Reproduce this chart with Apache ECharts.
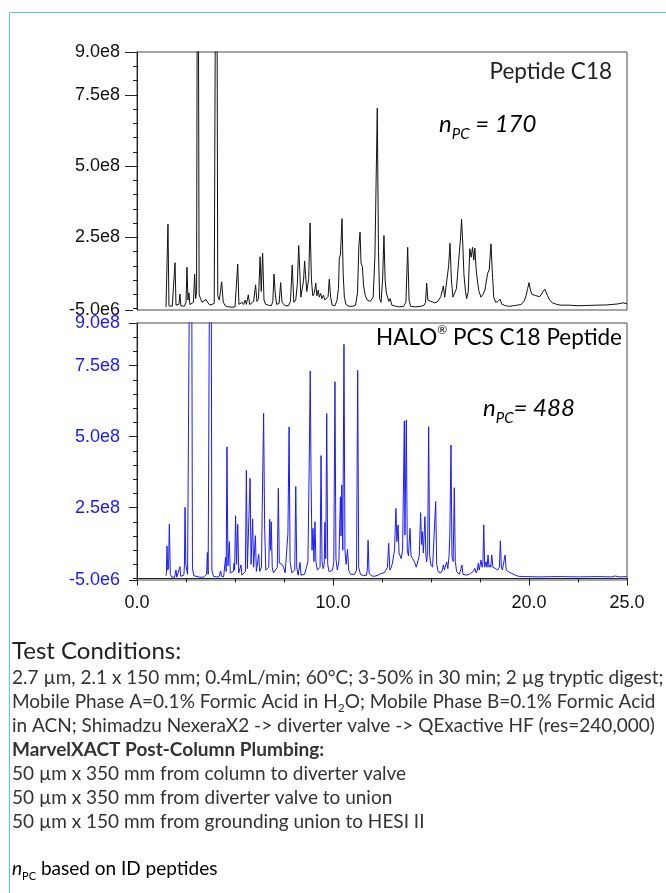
<!DOCTYPE html>
<html>
<head>
<meta charset="utf-8">
<script src="https://cdn.jsdelivr.net/npm/echarts@6.0.0/dist/echarts.min.js"></script>
<style>
html,body{margin:0;padding:0;background:#fff;}
#main{width:666px;height:893px;}
</style>
</head>
<body>
<div id="main"></div>
<script>
// ---- DATA (intensity in units of 1e8, time in min) ----
const c18Trace = [[1.48,0.05],[1.54,0.07],[1.58,2.96],[1.63,0.10],[1.70,0.06],[1.80,0.08],[1.88,0.12],[1.94,1.61],[1.99,0.12],[2.08,0.06],[2.14,0.15],[2.19,0.51],[2.24,0.10],[2.32,0.05],[2.42,0.08],[2.50,0.22],[2.55,1.45],[2.60,0.30],[2.65,0.55],[2.70,0.14],[2.80,0.10],[2.88,0.22],[2.94,1.20],[2.99,0.35],[3.04,0.60],[3.10,20.0],[3.17,0.50],[3.24,0.35],[3.32,0.22],[3.42,0.20],[3.52,0.32],[3.62,0.20],[3.72,0.12],[3.82,0.10],[3.94,0.18],[4.05,20.0],[4.12,0.45],[4.20,0.30],[4.32,0.94],[4.40,0.22],[4.50,0.10],[4.65,0.06],[4.85,0.05],[5.00,0.06],[5.08,0.12],[5.14,1.56],[5.20,0.15],[5.30,0.10],[5.38,0.22],[5.44,0.14],[5.52,0.30],[5.58,0.15],[5.68,0.48],[5.75,0.14],[5.85,0.10],[5.95,0.25],[6.05,0.83],[6.12,0.25],[6.20,0.35],[6.28,1.82],[6.34,0.60],[6.41,1.94],[6.48,0.30],[6.56,0.15],[6.70,0.12],[6.85,0.10],[6.93,0.25],[6.99,1.21],[7.05,0.55],[7.12,0.15],[7.25,0.18],[7.33,0.91],[7.40,0.22],[7.55,0.10],[7.72,0.10],[7.83,0.25],[7.92,1.53],[8.00,0.22],[8.10,0.30],[8.18,0.85],[8.25,2.21],[8.30,1.40],[8.36,0.40],[8.45,0.35],[8.50,1.00],[8.55,1.67],[8.60,1.20],[8.66,0.60],[8.76,1.05],[8.83,3.00],[8.90,1.00],[8.97,0.45],[9.05,0.55],[9.12,0.89],[9.18,0.45],[9.25,0.65],[9.30,0.40],[9.37,0.53],[9.43,0.35],[9.51,0.47],[9.58,0.30],[9.68,0.36],[9.75,0.42],[9.81,1.03],[9.88,0.40],[9.96,0.12],[10.10,0.10],[10.20,0.28],[10.28,0.70],[10.32,1.76],[10.38,1.90],[10.46,3.15],[10.52,1.20],[10.58,0.40],[10.66,0.15],[10.80,0.08],[11.00,0.08],[11.15,0.12],[11.25,0.55],[11.32,2.20],[11.38,2.68],[11.43,1.60],[11.50,1.47],[11.56,0.80],[11.65,0.45],[11.75,0.30],[11.90,0.25],[12.05,0.40],[12.14,1.88],[12.19,1.95],[12.26,7.03],[12.32,2.00],[12.38,0.35],[12.45,0.22],[12.53,1.00],[12.60,2.56],[12.66,1.00],[12.72,0.55],[12.78,0.50],[12.85,0.25],[12.92,0.35],[13.00,0.12],[13.20,0.08],[13.40,0.06],[13.60,0.08],[13.72,0.22],[13.81,2.15],[13.88,0.30],[13.96,0.08],[14.20,0.06],[14.50,0.08],[14.65,0.12],[14.72,0.22],[14.78,0.89],[14.84,0.30],[14.92,0.35],[15.00,0.25],[15.10,0.30],[15.20,0.20],[15.35,0.25],[15.50,0.42],[15.63,0.79],[15.70,0.40],[15.80,0.42],[15.90,1.50],[15.97,2.29],[16.04,1.00],[16.12,0.40],[16.20,0.35],[16.30,0.70],[16.40,1.60],[16.50,2.40],[16.56,3.13],[16.62,2.30],[16.68,1.20],[16.76,0.60],[16.82,0.35],[16.90,0.60],[16.98,2.10],[17.05,1.80],[17.12,2.15],[17.18,1.70],[17.24,2.12],[17.30,1.40],[17.38,0.90],[17.45,0.60],[17.55,0.40],[17.65,0.50],[17.75,0.65],[17.89,1.24],[17.97,1.35],[18.06,2.27],[18.12,1.40],[18.20,0.40],[18.30,0.22],[18.42,0.25],[18.52,0.33],[18.62,0.15],[18.80,0.10],[19.00,0.08],[19.20,0.10],[19.40,0.12],[19.60,0.15],[19.75,0.25],[19.85,0.45],[19.93,0.70],[20.00,0.91],[20.07,0.65],[20.15,0.50],[20.25,0.55],[20.35,0.45],[20.45,0.50],[20.55,0.42],[20.65,0.48],[20.72,0.60],[20.80,0.68],[20.88,0.62],[20.95,0.45],[21.05,0.30],[21.20,0.20],[21.40,0.15],[21.60,0.12],[22.00,0.12],[22.50,0.10],[23.00,0.11],[23.50,0.12],[24.00,0.13],[24.50,0.16],[24.80,0.20],[25.00,0.17]];

const pcsTrace = [[1.48,0.10],[1.50,0.18],[1.53,1.15],[1.57,0.30],[1.61,0.40],[1.65,1.91],[1.70,0.15],[1.78,0.05],[1.92,0.05],[1.96,0.08],[1.99,0.30],[2.03,0.05],[2.12,0.08],[2.19,0.42],[2.23,0.08],[2.32,0.06],[2.39,0.12],[2.42,0.45],[2.45,2.51],[2.49,0.50],[2.53,0.48],[2.58,0.15],[2.68,0.20],[2.76,20.0],[2.83,0.35],[2.90,0.10],[3.00,0.06],[3.20,0.05],[3.40,0.05],[3.50,0.08],[3.55,0.15],[3.59,0.92],[3.63,0.15],[3.70,0.20],[3.76,20.0],[3.82,0.30],[3.90,0.08],[4.05,0.06],[4.18,0.06],[4.23,0.12],[4.27,0.27],[4.31,0.08],[4.42,0.06],[4.48,0.12],[4.52,0.75],[4.55,0.25],[4.59,4.64],[4.64,0.45],[4.71,1.30],[4.76,0.20],[4.85,0.15],[4.92,0.25],[4.95,0.54],[4.98,0.30],[5.03,2.21],[5.08,0.50],[5.14,1.91],[5.19,0.20],[5.26,0.15],[5.31,0.48],[5.35,0.12],[5.45,0.10],[5.53,0.25],[5.58,3.81],[5.63,0.35],[5.70,0.30],[5.77,3.53],[5.82,0.50],[5.90,2.10],[5.95,0.40],[6.04,1.51],[6.09,0.25],[6.15,0.20],[6.21,0.85],[6.26,0.25],[6.35,0.40],[6.41,3.47],[6.46,5.82],[6.51,1.89],[6.57,0.30],[6.66,0.25],[6.72,0.40],[6.77,2.09],[6.81,1.00],[6.85,2.00],[6.90,0.40],[6.96,0.20],[7.01,0.27],[7.06,0.25],[7.16,0.40],[7.21,3.18],[7.26,0.55],[7.32,0.48],[7.40,0.50],[7.48,0.40],[7.56,0.20],[7.64,0.15],[7.70,1.59],[7.76,5.34],[7.81,0.59],[7.90,0.20],[7.98,0.20],[8.05,0.30],[8.10,3.24],[8.15,0.40],[8.22,0.12],[8.28,0.15],[8.32,0.57],[8.37,0.12],[8.45,0.10],[8.55,0.15],[8.65,0.20],[8.72,0.60],[8.78,3.65],[8.84,7.31],[8.88,3.53],[8.93,1.00],[8.98,1.77],[9.03,0.60],[9.08,2.00],[9.13,0.59],[9.20,0.30],[9.28,0.25],[9.34,0.40],[9.39,4.33],[9.44,0.59],[9.50,0.35],[9.55,0.50],[9.59,1.98],[9.63,0.70],[9.68,5.81],[9.73,0.50],[9.80,0.24],[9.90,0.20],[9.98,0.30],[10.04,0.60],[10.10,6.93],[10.15,0.70],[10.22,0.30],[10.30,0.60],[10.34,1.78],[10.38,2.88],[10.41,1.50],[10.45,3.30],[10.50,1.00],[10.56,8.25],[10.61,1.00],[10.67,0.50],[10.74,1.03],[10.80,0.30],[10.90,0.15],[11.00,0.12],[11.10,0.15],[11.20,0.30],[11.26,7.33],[11.31,0.40],[11.40,0.15],[11.55,0.10],[11.70,0.12],[11.75,0.30],[11.79,1.35],[11.84,0.20],[11.95,0.10],[12.10,0.08],[12.30,0.12],[12.45,0.18],[12.60,0.20],[12.70,0.30],[12.78,0.40],[12.84,1.24],[12.90,0.30],[12.98,0.40],[13.03,0.54],[13.08,0.60],[13.14,1.00],[13.21,2.47],[13.26,1.30],[13.32,1.89],[13.37,0.90],[13.42,0.83],[13.48,0.70],[13.55,1.00],[13.64,5.55],[13.67,1.53],[13.74,5.58],[13.79,1.00],[13.85,0.80],[13.93,1.77],[13.98,0.80],[14.06,0.71],[14.15,0.60],[14.25,0.40],[14.33,0.45],[14.40,0.80],[14.47,2.32],[14.52,1.20],[14.56,1.65],[14.61,0.90],[14.69,2.18],[14.74,0.80],[14.78,0.59],[14.83,1.00],[14.88,5.35],[14.93,0.80],[15.00,0.48],[15.08,0.40],[15.17,0.40],[15.24,2.71],[15.29,0.50],[15.37,0.24],[15.50,0.20],[15.58,0.30],[15.63,0.48],[15.68,0.30],[15.75,0.35],[15.80,0.59],[15.86,0.35],[15.92,0.80],[15.96,1.50],[16.02,4.70],[16.07,0.80],[16.13,0.60],[16.19,3.20],[16.24,0.60],[16.31,0.24],[16.45,0.15],[16.53,0.20],[16.58,0.48],[16.63,0.15],[16.80,0.12],[16.95,0.15],[17.05,0.20],[17.15,0.25],[17.24,0.36],[17.30,0.20],[17.37,0.30],[17.41,0.54],[17.46,0.30],[17.55,0.65],[17.61,0.40],[17.65,0.60],[17.69,1.89],[17.74,0.40],[17.81,0.59],[17.86,0.40],[17.91,0.83],[17.96,0.40],[18.01,0.48],[18.05,0.40],[18.10,0.83],[18.16,0.40],[18.27,0.36],[18.40,0.30],[18.49,0.40],[18.54,1.33],[18.59,0.40],[18.64,0.30],[18.72,0.35],[18.78,0.83],[18.84,0.30],[18.95,0.24],[19.12,0.18],[19.30,0.12],[19.46,0.08],[19.80,0.07],[20.50,0.06],[21.50,0.07],[22.50,0.06],[23.50,0.07],[24.20,0.06],[24.40,0.09],[24.60,0.06],[25.00,0.07]];

const yMin = -0.05, yMax = 9;                 // axis range, units of 1e8
const yLabelValues = [-0.05, 2.5, 5, 7.5, 9];  // labelled ticks (-5.0e6 ... 9.0e8)
const yMinorTicks = [0,0.5,1,1.5,2,2.5,3,3.5,4,4.5,5,5.5,6,6.5,7,7.5,8,8.5,9];
const xLabelValues = [0, 10, 20, 25];
const xMinorTicks = [0,2.5,5,7.5,10,12.5,15,17.5,20,22.5,25];

const panelNames = ['Peptide C18', 'HALO® PCS C18 Peptide'];
const peakCapacity = [170, 488];

const notesLines = [
  '2.7 µm, 2.1 x 150 mm; 0.4mL/min; 60°C; 3-50% in 30 min; 2 µg tryptic digest;',
  '{r|Mobile Phase A=0.1% Formic Acid in H}{s|2}{r|O; Mobile Phase B=0.1% Formic Acid}',
  'in ACN; Shimadzu NexeraX2 -> diverter valve -> QExactive HF (res=240,000)',
  '{b|MarvelXACT Post-Column Plumbing:}',
  '50 µm x 350 mm from column to diverter valve',
  '50 µm x 350 mm from diverter valve to union',
  '50 µm x 150 mm from grounding union to HESI II'
];

// ---- CHART ----
const chart = echarts.init(document.getElementById('main'), null, {renderer: 'canvas'});
const AX = 'Liberation Sans';
const TX = 'Lato';
const BODY = 19;
const fmtY = v => (v * 1e8).toExponential(1).replace('+', '');

function yAxesFor(grid, labelColor) {
  return [
    { gridIndex: grid, type: 'value', min: yMin, max: yMax, position: 'left', offset: 4,
      axisLine: { show: true, lineStyle: { color: '#222', width: 1 } },
      axisTick: { show: true, customValues: yMinorTicks, length: 4, lineStyle: { color: '#222' } },
      axisLabel: { show: false }, splitLine: { show: false } },
    { gridIndex: grid, type: 'value', min: yMin, max: yMax, position: 'left', offset: 4,
      axisLine: { show: false },
      axisTick: { show: true, customValues: yLabelValues, length: 8, lineStyle: { color: '#222' } },
      axisLabel: { show: true, customValues: yLabelValues, formatter: fmtY, color: labelColor,
                   fontFamily: AX, fontSize: 18, margin: 13 },
      splitLine: { show: false } }
  ];
}

const noteElements = [{
  type: 'text', x: 12, y: 651,
  style: { text: 'Test Conditions:', fontFamily: TX, fontSize: 24, fill: '#222', verticalAlign: 'middle' }
}];
notesLines.forEach((line, i) => {
  noteElements.push({
    type: 'text', x: 12, y: 678 + i * 24,
    style: {
      text: line, fontFamily: TX, fontSize: BODY, fill: '#333', verticalAlign: 'middle',
      rich: {
        r: { fontFamily: TX, fontSize: BODY, color: '#333', lineHeight: 24 },
        s: { fontFamily: TX, fontSize: 12, color: '#333', lineHeight: 13, verticalAlign: 'bottom' },
        b: { fontFamily: TX, fontSize: BODY, color: '#2a2a2a', fontWeight: 'bold', lineHeight: 24 }
      }
    }
  });
});
noteElements.push({
  type: 'text', x: 12, y: 869,
  style: {
    text: '{i|n}{s|PC}{r| based on ID peptides}', verticalAlign: 'middle',
    rich: {
      i: { fontFamily: TX, fontSize: BODY, fontStyle: 'italic', color: '#333', lineHeight: 26 },
      s: { fontFamily: TX, fontSize: 11, color: '#333', lineHeight: 13, verticalAlign: 'bottom' },
      r: { fontFamily: TX, fontSize: BODY, color: '#333', lineHeight: 26 }
    }
  }
});

function npcText(x, y, str) {
  return {
    type: 'text', x: x, y: y,
    style: {
      text: str, verticalAlign: 'middle',
      rich: {
        n: { fontFamily: TX, fontSize: 24, fontStyle: 'italic', color: '#333', lineHeight: 36 },
        s: { fontFamily: TX, fontSize: 15, fontStyle: 'italic', color: '#333', lineHeight: 13, verticalAlign: 'bottom' },
        e: { fontFamily: TX, fontSize: 24, fontStyle: 'italic', color: '#333', lineHeight: 36 }
      }
    }
  };
}

const option = {
  animation: false,
  backgroundColor: '#fff',
  grid: [
    { left: 137, top: 52, width: 490, height: 258, show: true, borderColor: '#4a4a4a', borderWidth: 1 },
    { left: 137, top: 323, width: 490, height: 257, show: true, borderColor: '#4a4a4a', borderWidth: 1 }
  ],
  xAxis: [
    { gridIndex: 0, type: 'value', min: 0, max: 25, show: false },
    { gridIndex: 1, type: 'value', min: 0, max: 25, position: 'bottom', offset: 5,
      axisLine: { show: true, lineStyle: { color: '#222', width: 1 } },
      axisTick: { show: true, customValues: xMinorTicks, length: 4, lineStyle: { color: '#222' } },
      axisLabel: { show: false }, splitLine: { show: false } },
    { gridIndex: 1, type: 'value', min: 0, max: 25, position: 'bottom', offset: 5,
      axisLine: { show: false },
      axisTick: { show: true, customValues: xLabelValues, length: 7, lineStyle: { color: '#222' } },
      axisLabel: { show: true, customValues: xLabelValues, formatter: v => v.toFixed(1),
                   color: '#111', fontFamily: AX, fontSize: 18, margin: 9 },
      splitLine: { show: false } }
  ],
  yAxis: [].concat(yAxesFor(0, '#111'), yAxesFor(1, '#1a1aff')),
  series: [
    { name: panelNames[0], type: 'line', xAxisIndex: 0, yAxisIndex: 0, data: c18Trace,
      showSymbol: false, symbol: 'none', clip: true,
      lineStyle: { color: '#111', width: 1 }, itemStyle: { color: '#111' } },
    { name: panelNames[1], type: 'line', xAxisIndex: 1, yAxisIndex: 2, data: pcsTrace,
      showSymbol: false, symbol: 'none', clip: true,
      lineStyle: { color: '#1a1aff', width: 1 }, itemStyle: { color: '#1a1aff' } }
  ],
  graphic: {
    elements: [
      { type: 'line', shape: { x1: 9.5, y1: 12.5, x2: 666, y2: 12.5 }, style: { stroke: '#5ec3ec', lineWidth: 1 } },
      { type: 'line', shape: { x1: 9.5, y1: 12.5, x2: 9.5, y2: 893 }, style: { stroke: '#5ec3ec', lineWidth: 1 } },
      { type: 'text', x: 612, y: 72,
        style: { text: panelNames[0], fontFamily: TX, fontSize: 22.5, fill: '#222', align: 'right', verticalAlign: 'middle' } },
      { type: 'text', x: 622, y: 338,
        style: { text: '{m|HALO}{r|®}{m| PCS C18 Peptide}', align: 'right', verticalAlign: 'middle',
          rich: {
            m: { fontFamily: TX, fontSize: 22.5, color: '#2d4a9c', lineHeight: 28 },
            r: { fontFamily: TX, fontSize: 12, color: '#2d4a9c', lineHeight: 14, verticalAlign: 'top' }
          } } },
      npcText(439, 124, '{n|n}{s|PC}{e| = ' + peakCapacity[0] + '}'),
      npcText(483, 408, '{n|n}{s|PC}{e|= ' + peakCapacity[1] + '}')
    ].concat(noteElements)
  }
};
chart.setOption(option);
</script>
</body>
</html>
